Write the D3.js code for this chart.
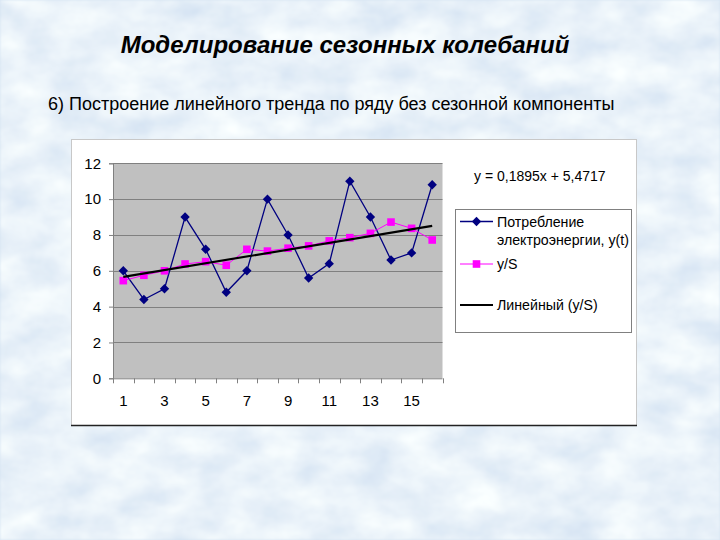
<!DOCTYPE html>
<html><head><meta charset="utf-8">
<script src="https://cdn.jsdelivr.net/npm/d3@7"></script>
<style>html,body{margin:0;padding:0;background:#d8e6f3;}svg{display:block;}</style>
</head><body>
<script>
const periods = [1,2,3,4,5,6,7,8,9,10,11,12,13,14,15,16];
const consumption = [6, 4.4, 5, 9, 7.2, 4.8, 6, 10, 8, 5.6, 6.4, 11, 9, 6.6, 7, 10.8];
const deseasonalized = [5.45, 5.75, 6.0, 6.38, 6.51, 6.31, 7.2, 7.1, 7.26, 7.39, 7.67, 7.85, 8.09, 8.72, 8.37, 7.72];
const trendCoef = [0.1895, 5.4717]; // slope, intercept
const yTicks = [0,2,4,6,8,10,12];
const xTickLabels = [1,3,5,7,9,11,13,15];
const seriesNames = ["Потребление", "электроэнергии, y(t)", "y/S", "Линейный (y/S)"];
const titleText = "Моделирование сезонных колебаний";
const subtitleText = "6) Построение линейного тренда по ряду без сезонной компоненты";

const W = 720, H = 540;
const svg = d3.select("body").append("svg").attr("width", W).attr("height", H);
const defs = svg.append("defs");
const f = defs.append("filter").attr("id","marble").attr("x",0).attr("y",0).attr("width","100%").attr("height","100%");
f.append("feTurbulence").attr("type","fractalNoise").attr("baseFrequency","0.02 0.035").attr("numOctaves",4).attr("seed",7).attr("result","n");
f.append("feColorMatrix").attr("in","n").attr("type","matrix").attr("result","c")
 .attr("values","0 0 0 0.38 0.63  0 0 0 0.3 0.74  0 0 0 0.14 0.88  0 0 0 0 1");
f.append("feGaussianBlur").attr("in","c").attr("stdDeviation",1.2);
svg.append("rect").attr("width",W).attr("height",H).attr("fill","#d2e2f1");
svg.append("rect").attr("width",W).attr("height",H).attr("filter","url(#marble)");

const ff = "Liberation Sans, Arial, sans-serif";
svg.append("text").attr("x",345).attr("y",53).attr("text-anchor","middle")
  .attr("font-family",ff).attr("font-size",24)
  .attr("font-weight","bold").attr("font-style","italic").attr("fill","#000").text(titleText);
svg.append("text").attr("x",48).attr("y",110)
  .attr("font-family",ff).attr("font-size",18)
  .attr("fill","#000").text(subtitleText);

// chart area box
svg.append("rect").attr("x",71.5).attr("y",139.5).attr("width",565).attr("height",286)
  .attr("fill","#fff").attr("stroke","#c8c8c8").attr("stroke-width",1);
svg.append("line").attr("x1",71).attr("x2",637).attr("y1",425.5).attr("y2",425.5).attr("stroke","#222").attr("stroke-width",1.5);

const plot = {l:113, r:442.5, t:163.3, b:378.3};
const x = d3.scaleBand().domain(periods).range([plot.l, plot.r]).padding(0);
const y = d3.scaleLinear().domain([0,12]).range([plot.b, plot.t]);
const cx = d => x(d) + x.bandwidth()/2;

svg.append("rect").attr("x",plot.l).attr("y",plot.t).attr("width",plot.r-plot.l).attr("height",plot.b-plot.t).attr("fill","#c0c0c0");
svg.append("g").selectAll("line").data(yTicks.filter(d=>d>0)).join("line")
  .attr("x1",plot.l).attr("x2",plot.r).attr("y1",d=>Math.round(y(d))+0.5).attr("y2",d=>Math.round(y(d))+0.5)
  .attr("stroke","#808080").attr("stroke-width",1);

// y axis
const yAxis = d3.axisLeft(y).tickValues(yTicks).tickSize(4).tickPadding(8);
const gy = svg.append("g").attr("transform",`translate(${plot.l},0)`).call(yAxis);
gy.select(".domain").attr("stroke","#808080");
gy.selectAll(".tick line").attr("stroke","#808080");
gy.selectAll("text").attr("font-family",ff).attr("font-size",15).attr("fill","#000");

// x axis with ticks at category boundaries
const gx = svg.append("g").attr("transform",`translate(0,${plot.b})`);
gx.append("line").attr("x1",plot.l).attr("x2",plot.r).attr("y1",0.5).attr("y2",0.5).attr("stroke","#808080");
const bounds = periods.map(p=>x(p)).concat([x(periods[periods.length-1])+x.bandwidth()]);
gx.selectAll("line.tk").data(bounds).join("line").attr("class","tk")
  .attr("x1",d=>Math.round(d)+0.5).attr("x2",d=>Math.round(d)+0.5).attr("y1",0).attr("y2",5).attr("stroke","#808080");
gx.selectAll("text").data(xTickLabels).join("text")
  .attr("x",d=>cx(d)).attr("y",28).attr("text-anchor","middle")
  .attr("font-family",ff).attr("font-size",15).attr("fill","#000").text(d=>d);

// blue series
const line = d3.line().x((d,i)=>cx(periods[i])).y(d=>y(d));
svg.append("path").attr("d",line(consumption)).attr("fill","none").attr("stroke","#000080").attr("stroke-width",1.3);
// pink series
svg.append("path").attr("d",line(deseasonalized)).attr("fill","none").attr("stroke","#ff00ff").attr("stroke-width",1);
svg.append("g").selectAll("rect").data(deseasonalized).join("rect")
  .attr("x",(d,i)=>cx(periods[i])-3.8).attr("y",d=>y(d)-3.8).attr("width",7.6).attr("height",7.6).attr("fill","#ff00ff");
// trend
const tx = [periods[0], periods[periods.length-1]];
svg.append("path").attr("d",d3.line().x(d=>cx(d)).y(d=>y(trendCoef[0]*d+trendCoef[1]))(tx))
  .attr("fill","none").attr("stroke","#000").attr("stroke-width",2.2);
// blue diamonds on top
const diamond = d3.symbol().type(d3.symbolDiamond2).size(56);
svg.append("g").selectAll("path").data(consumption).join("path")
  .attr("transform",(d,i)=>`translate(${cx(periods[i])},${y(d)})`).attr("d",diamond).attr("fill","#000080");

// equation
const fmt = v => String(v).replace(".", ",");
svg.append("text").attr("x",474).attr("y",181).attr("font-family",ff).attr("font-size",14)
  .attr("fill","#000").text(`y = ${fmt(trendCoef[0])}x + ${fmt(trendCoef[1])}`);

// legend
const lg = svg.append("g");
lg.append("rect").attr("x",455.5).attr("y",209.5).attr("width",176).attr("height",123).attr("fill","#fff").attr("stroke","#808080");
const ls = 14.2;
const rows = [221.5, 264, 305];
lg.append("line").attr("x1",460).attr("x2",493).attr("y1",rows[0]).attr("y2",rows[0]).attr("stroke","#000080").attr("stroke-width",1.3);
lg.append("path").attr("transform",`translate(476.5,${rows[0]})`).attr("d",diamond).attr("fill","#000080");
lg.append("text").attr("x",497).attr("y",rows[0]+5).attr("font-family",ff).attr("font-size",ls).text(seriesNames[0]);
lg.append("text").attr("x",497).attr("y",rows[0]+23).attr("font-family",ff).attr("font-size",ls).text(seriesNames[1]);
lg.append("line").attr("x1",460).attr("x2",493).attr("y1",rows[1]).attr("y2",rows[1]).attr("stroke","#ff00ff").attr("stroke-width",1);
lg.append("rect").attr("x",476.5-3.8).attr("y",rows[1]-3.8).attr("width",7.6).attr("height",7.6).attr("fill","#ff00ff");
lg.append("text").attr("x",497).attr("y",rows[1]+5).attr("font-family",ff).attr("font-size",ls).text(seriesNames[2]);
lg.append("line").attr("x1",460).attr("x2",493).attr("y1",rows[2]).attr("y2",rows[2]).attr("stroke","#000").attr("stroke-width",2.2);
lg.append("text").attr("x",497).attr("y",rows[2]+5).attr("font-family",ff).attr("font-size",ls).text(seriesNames[3]);
</script>
</body></html>
